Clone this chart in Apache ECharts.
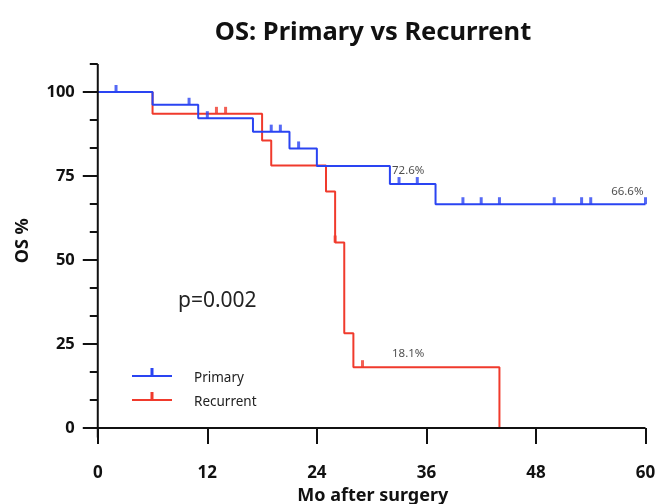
<!DOCTYPE html>
<html>
<head>
<meta charset="utf-8">
<script src="https://cdn.jsdelivr.net/npm/echarts@6/dist/echarts.min.js"></script>
<style>
  html, body { margin: 0; padding: 0; background: #ffffff; }
  #chart { width: 657px; height: 504px; }
</style>
</head>
<body>
<div id="chart"></div>
<script>
// Kaplan–Meier steps: month of each event and overall survival (%) after it
const primaryMonths = [0, 6, 11, 17, 21, 24, 32, 37, 60];
const primarySurv = [100, 96.2, 92.2, 88.2, 83.2, 78.0, 72.6, 66.6, 66.6];
const recurrentMonths = [0, 6, 18, 19, 25, 26, 27, 28, 44];
const recurrentSurv = [100, 93.5, 85.6, 78.1, 70.4, 55.2, 28.2, 18.1, 0];

// Censored patients (months of last follow-up)
const primaryCensored = [2, 10, 12, 19, 20, 22, 33, 35, 40, 42, 44, 50, 53, 54, 60];
const recurrentCensored = [13, 14, 26, 29];

// Landmark survival read-outs (group, month)
const landmarkLabels = [
  ['Primary', 36],
  ['Primary', 60],
  ['Recurrent', 36]
];
const landmarkMonths = [36, 60];

// Axis ticks
const xTicks = [0, 12, 24, 36, 48, 60];
const yTicks = [0, 25, 50, 75, 100];
const yMinorTicks = [8.333, 16.667, 33.333, 41.667, 58.333, 66.667, 83.333, 91.667, 108.333];

const pValueText = 'p=0.002';

const BLUE = '#2a44f2';
const RED = '#f03a2c';
const INK = '#111111';
const FONT = 'Noto Sans';

// Axis ranges: both axis lines run a little past the origin
const X_MIN = -1.4, X_MAX = 60;
const Y_MIN = -2.8, Y_MAX = 108.333;

const groups = {
  Primary: { months: primaryMonths, surv: primarySurv },
  Recurrent: { months: recurrentMonths, surv: recurrentSurv }
};

// Survival of a group at time t (value of the step in force at t)
function survAt(group, t) {
  const g = groups[group];
  let v = g.surv[0];
  for (let i = 0; i < g.months.length; i++) {
    if (g.months[i] <= t) v = g.surv[i];
  }
  return v;
}

const pairs = (xs, ys) => xs.map((x, i) => [x, ys[i]]);
const censorPoints = (group, times) => times.map(t => [t, survAt(group, t)]);

const censorMark = {
  type: 'scatter',
  symbol: 'rect',
  symbolSize: [3, 7],
  symbolOffset: [0, -3.5],
  silent: true,
  z: 4
};

// Grid box in pixels
const W = 657, H = 504;
const G = { left: 85, right: 11.5, top: 64, bottom: 66.6 };
const pxPerX = (W - G.left - G.right) / (X_MAX - X_MIN);
const pxPerY = (H - G.top - G.bottom) / (Y_MAX - Y_MIN);
// move tick marks and labels from the grid edge onto the origin
const yAxisOffset = -(0 - X_MIN) * pxPerX;
const xAxisOffset = -(0 - Y_MIN) * pxPerY;

const chart = echarts.init(document.getElementById('chart'), null, { renderer: 'canvas' });

const tickStyle = () => ({ color: INK, width: 2 });

chart.setOption({
  animation: false,
  backgroundColor: '#ffffff',
  textStyle: { fontFamily: FONT },
  title: {
    text: 'OS: Primary vs Recurrent',
    left: 368,
    top: 15,
    textAlign: 'center',
    textStyle: { fontFamily: FONT, fontSize: 25.5, fontWeight: 'bold', color: INK }
  },
  grid: Object.assign({ containLabel: false, outerBoundsMode: 'none' }, G),
  legend: {
    data: ['Primary', 'Recurrent'],
    orient: 'vertical',
    left: 132,
    top: 368,
    padding: 0,
    itemGap: 3,
    itemWidth: 40,
    itemHeight: 21,
    // line with a censor tick; the last point only pads the box below the line
    icon: 'path://M18.5,0 L21.5,0 L21.5,7 L18.5,7 Z M0,7 L40,7 L40,9 L0,9 Z M0,21 L0.01,21 Z',
    selectedMode: false,
    textStyle: { fontFamily: FONT, fontSize: 13.5, color: '#222', padding: [0, 0, 0, 17] }
  },
  xAxis: {
    type: 'value',
    min: X_MIN,
    max: X_MAX,
    offset: xAxisOffset,
    name: 'Mo after surgery',
    nameLocation: 'middle',
    nameGap: 54,
    nameTextStyle: { fontFamily: FONT, fontSize: 18, fontWeight: 'bold', color: INK, padding: [0, 0, 0, 15] },
    axisLine: { show: false, onZero: false },
    axisTick: { show: true, inside: false, length: 16, lineStyle: tickStyle(), customValues: xTicks },
    axisLabel: { margin: 37, fontFamily: FONT, fontSize: 17, fontWeight: 'bold', color: INK, customValues: xTicks },
    splitLine: { show: false }
  },
  yAxis: [
    {
      type: 'value',
      min: Y_MIN,
      max: Y_MAX,
      offset: yAxisOffset,
      name: 'OS %',
      nameLocation: 'middle',
      nameGap: 66,
      nameTextStyle: { fontFamily: FONT, fontSize: 18, fontWeight: 'bold', color: INK, padding: [0, 0, 0, 20] },
      axisLine: { show: false, onZero: false },
      axisTick: { show: true, inside: false, length: 15, lineStyle: tickStyle(), customValues: yTicks },
      axisLabel: { margin: 23, fontFamily: FONT, fontSize: 16.5, fontWeight: 'bold', color: INK, customValues: yTicks },
      splitLine: { show: false }
    },
    {
      type: 'value',
      min: Y_MIN,
      max: Y_MAX,
      position: 'left',
      offset: yAxisOffset,
      axisLine: { show: false, onZero: false },
      axisTick: { show: true, inside: false, length: 8, lineStyle: tickStyle(), customValues: yMinorTicks },
      axisLabel: { show: false },
      splitLine: { show: false }
    }
  ],
  graphic: [
    {
      id: 'pvalue',
      type: 'text',
      left: 178,
      top: 291,
      style: { text: pValueText, font: '21px "Noto Sans"', fill: '#222' }
    }
  ],
  series: [
    {
      name: 'Landmarks',
      type: 'scatter',
      data: [],
      silent: true,
      clip: false,
      z: 1,
      markLine: {
        silent: true,
        symbol: 'none',
        label: { show: false },
        lineStyle: { color: '#444', width: 1, type: [3, 3] },
        data: landmarkMonths.map(m => [{ coord: [m, 0] }, { coord: [m, 110] }])
      }
    },
    {
      name: 'Recurrent',
      type: 'line',
      step: 'end',
      data: pairs(recurrentMonths, recurrentSurv),
      symbol: 'none',
      color: RED,
      lineStyle: { color: RED, width: 2 },
      z: 2
    },
    {
      name: 'Primary',
      type: 'line',
      step: 'end',
      data: pairs(primaryMonths, primarySurv),
      symbol: 'none',
      color: BLUE,
      lineStyle: { color: BLUE, width: 2 },
      z: 3
    },
    Object.assign({ name: 'Recurrent censored', data: censorPoints('Recurrent', recurrentCensored), itemStyle: { color: RED } }, censorMark),
    Object.assign({ name: 'Primary censored', data: censorPoints('Primary', primaryCensored), itemStyle: { color: BLUE } }, censorMark),
    {
      name: 'Landmark survival',
      type: 'scatter',
      symbolSize: 0,
      silent: true,
      z: 5,
      data: landmarkLabels.map(([g, m]) => [m, survAt(g, m)]),
      label: {
        show: true,
        position: [-2, -7],
        align: 'right',
        verticalAlign: 'bottom',
        fontFamily: FONT,
        fontSize: 11.5,
        color: '#222',
        formatter: p => p.value[1].toFixed(1) + '%'
      }
    }
  ]
});

// Axis lines through the origin, placed with the grid's own scales
const toPx = v => chart.convertToPixel({ gridIndex: 0 }, v);
const xa = toPx([X_MIN, 0]), xb = toPx([X_MAX, 0]);
const ya = toPx([0, Y_MIN]), yb = toPx([0, Y_MAX]);
chart.setOption({
  graphic: [
    {
      id: 'xAxisLine', type: 'line', z: 100, silent: true,
      shape: { x1: xa[0], y1: xa[1], x2: xb[0], y2: xb[1] },
      style: { stroke: INK, lineWidth: 2 }
    },
    {
      id: 'yAxisLine', type: 'line', z: 100, silent: true,
      shape: { x1: ya[0], y1: ya[1], x2: yb[0], y2: yb[1] },
      style: { stroke: INK, lineWidth: 2 }
    }
  ]
});
</script>
</body>
</html>
